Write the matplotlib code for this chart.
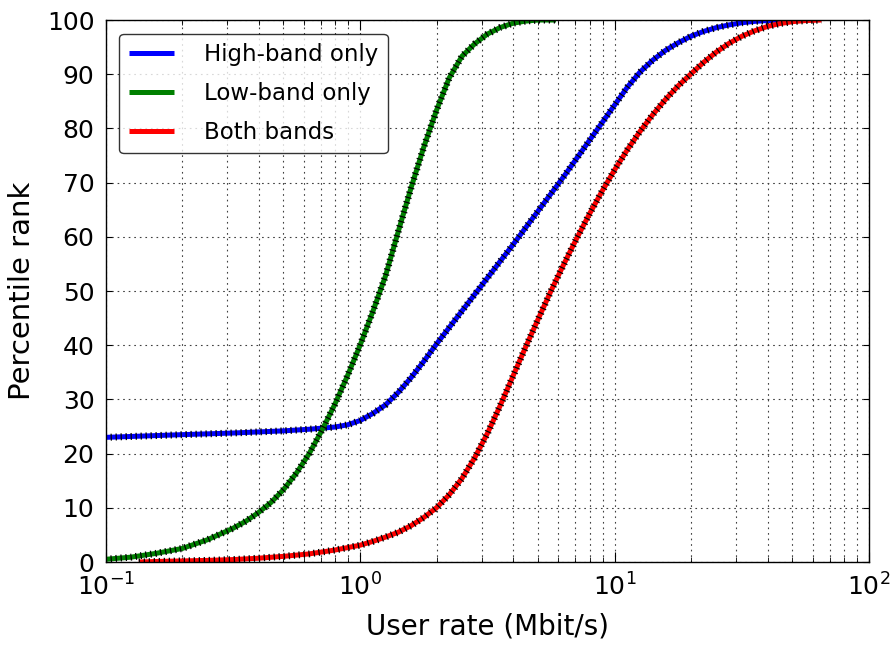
import matplotlib
matplotlib.use('Agg')
import matplotlib.pyplot as plt
from matplotlib.ticker import LogLocator

# CDF of user rate
high_x = [0.1, 0.2, 0.316, 0.501, 0.631, 0.794, 0.891, 1.0, 1.122, 1.259, 1.413, 1.585, 1.778,
          1.995, 2.512, 3.162, 3.981, 5.012, 6.31, 7.943, 8.913, 10.0, 11.22, 12.59, 14.13,
          15.85, 17.78, 19.95, 22.39, 25.12, 28.18, 31.62, 35.48, 39.81, 44.67]
high_y = [23.0, 23.5, 23.8, 24.2, 24.5, 24.9, 25.3, 26.1, 27.4, 29.0, 31.3, 34.0, 37.0,
          40.2, 46.3, 52.4, 58.5, 64.8, 71.1, 77.7, 81.0, 84.3, 87.6, 90.4, 92.6,
          94.4, 95.8, 97.0, 97.9, 98.6, 99.1, 99.5, 99.75, 99.9, 100.0]

low_x = [0.1, 0.126, 0.158, 0.2, 0.251, 0.316, 0.355, 0.398, 0.447, 0.501, 0.562, 0.631,
         0.708, 0.794, 0.891, 1.0, 1.122, 1.259, 1.413, 1.585, 1.778, 1.995, 2.239, 2.512,
         2.818, 3.162, 3.548, 3.981, 4.467, 5.012, 5.888]
low_y = [0.5, 0.9, 1.6, 2.5, 4.1, 6.2, 7.5, 9.1, 11.0, 13.4, 16.4, 20.0,
         24.3, 29.0, 34.3, 40.0, 46.2, 52.8, 61.0, 69.0, 76.5, 83.3, 89.3, 93.3,
         95.6, 97.4, 98.6, 99.4, 99.8, 100.0, 100.0]

both_x = [0.135, 0.158, 0.2, 0.251, 0.316, 0.398, 0.501, 0.631, 0.794, 1.0, 1.122, 1.259,
          1.413, 1.585, 1.778, 1.995, 2.239, 2.512, 2.818, 3.162, 3.548, 3.981, 4.467, 5.012,
          5.623, 6.31, 7.079, 7.943, 8.913, 10.0, 11.22, 12.59, 14.13, 15.85, 17.78, 19.95,
          22.39, 25.12, 28.18, 31.62, 35.48, 39.81, 44.67, 50.12, 56.23, 65.0]
both_y = [0.0, 0.1, 0.2, 0.3, 0.45, 0.7, 1.05, 1.5, 2.2, 3.1, 3.8, 4.6,
          5.5, 6.7, 8.2, 10.0, 12.4, 15.4, 19.2, 23.7, 28.8, 34.2, 39.6, 44.85,
          50.0, 54.9, 59.6, 64.1, 68.35, 72.35, 76.05, 79.45, 82.55, 85.35, 87.85, 90.05,
          92.2, 94.1, 95.7, 97.0, 98.0, 98.8, 99.35, 99.7, 99.9, 100.0]

series = [
    (high_x, high_y, 'b', 'High-band only'),
    (low_x, low_y, 'g', 'Low-band only'),
    (both_x, both_y, 'r', 'Both bands'),
]

plt.rcParams['font.family'] = 'DejaVu Sans'
plt.rcParams['lines.scale_dashes'] = False

fig = plt.figure(figsize=(8.95, 6.46), dpi=100)
ax = fig.add_axes([0.118, 0.130, 0.853, 0.839])

for x, y, c, lab in series:
    ax.plot(x, y, color=c, lw=3.6, label=lab, solid_capstyle='butt')
    ax.plot(x, y, color='k', lw=5.0, dashes=(0.9, 2.7), dash_capstyle='butt')

ax.set_xscale('log')
ax.set_xlim(0.1, 100)
ax.set_ylim(0, 100)
ax.set_yticks(range(0, 101, 10))
ax.xaxis.set_minor_locator(LogLocator(base=10, subs=range(2, 10)))

ax.grid(True, which='both', color='0.25', linestyle=(0, (1.2, 2.8)), linewidth=0.8)
ax.tick_params(which='both', direction='in', top=True, right=True, labelsize=18, pad=8)
ax.tick_params(axis='x', which='major', length=7)
ax.tick_params(axis='x', which='minor', length=3.5)
ax.tick_params(axis='y', which='major', length=4)
for s in ax.spines.values():
    s.set_linewidth(1.0)

ax.set_xlabel('User rate (Mbit/s)', fontsize=20, labelpad=9)
ax.set_ylabel('Percentile rank', fontsize=21, labelpad=8)

leg = ax.legend(loc='upper left', fontsize=16.5, fancybox=True, handlelength=2.0,
                handletextpad=1.3, labelspacing=0.7, borderaxespad=0.6)
leg.get_frame().set_edgecolor('k')
leg.get_frame().set_linewidth(1.0)

fig.savefig('out.png', dpi=100, facecolor='white')
